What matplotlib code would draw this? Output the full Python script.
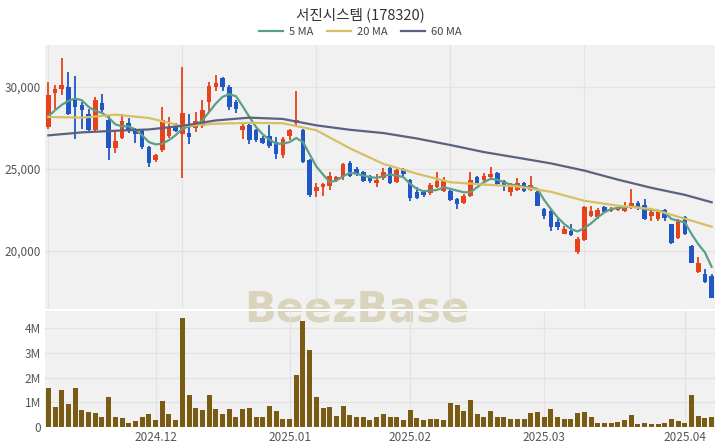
import numpy as np
import matplotlib
matplotlib.use("Agg")
import matplotlib.pyplot as plt
from matplotlib.patches import Rectangle
from matplotlib.lines import Line2D

plt.rcParams['font.family'] = ['Noto Sans CJK KR', 'DejaVu Sans']

title = "서진시스템 (178320)"

# daily candles, 2024-11-08 .. 2025-04-07 (100 trading days)
opens = [27550, 29600, 29840, 30000, 29290, 28880, 28330, 27350, 29020, 27960,
         26285, 26900, 27800, 27350, 27390, 26330, 25550, 26120, 26980, 27590,
         27100, 27180, 27510, 27590, 29080, 30000, 30510, 30000, 29080, 27350,
         27650, 27390, 26900, 26980, 26630, 25820, 26980, 27800, 27390, 25550,
         23630, 23875, 23980, 24330, 24590, 25350, 25000, 24800, 24590, 24120,
         24450, 25060, 24180, 25000, 24330, 23570, 23610, 23530, 23875, 23670,
         23630, 23160, 22895, 23370, 24530, 24290, 24490, 24730, 24245, 23570,
         23710, 24120, 23710, 23570, 22550, 22400, 21775, 21020, 21180, 19900,
         20655, 22140, 22080, 22690, 22410, 22490, 22450, 22650, 22900, 22820,
         22140, 21940, 22490, 21630, 20775, 22040, 20265, 18735, 18610, 18470]
highs = [30300, 30100, 31735, 30880, 30650, 29080, 28670, 29350, 29590, 28270,
         27300, 28370, 28120, 27510, 27450, 26370, 25920, 28780, 28160, 27800,
         31180, 28330, 28470, 29180, 30300, 30710, 30610, 30140, 29220, 27800,
         27755, 27450, 26980, 27650, 26940, 26940, 27450, 29755, 27450, 25610,
         24120, 24120, 24800, 24590, 25350, 25470, 25140, 24860, 24650, 24700,
         25060, 25140, 25060, 25060, 24390, 23875, 23715, 24120, 24800, 24490,
         23775, 23220, 23470, 24800, 24590, 24730, 25140, 24800, 24290, 24120,
         24450, 24180, 24590, 23670, 22590, 22490, 22040, 21530, 21630, 20860,
         22755, 22755, 22590, 22755, 22650, 22795, 22960, 23775, 23020, 23160,
         22410, 22490, 22550, 21630, 21940, 22140, 20365, 19630, 18875, 18570]
lows = [27450, 28670, 29490, 28270, 26840, 27450, 27245, 27245, 28370, 25550,
        25980, 26800, 27180, 26570, 26180, 25140, 25410, 26020, 26900, 27220,
        24450, 26490, 27245, 27510, 28470, 29755, 29755, 28570, 28410, 26840,
        26490, 26630, 26490, 26285, 25610, 25670, 26775, 27590, 25350, 23265,
        23300, 23370, 23715, 24180, 24330, 24530, 24590, 24180, 24120, 23915,
        24330, 24080, 24120, 24590, 23060, 23160, 23300, 23430, 23840, 23570,
        23060, 22550, 22855, 23265, 24080, 24180, 24450, 24040, 23670, 23370,
        23630, 23570, 23670, 22755, 21940, 21180, 21265, 21020, 20920, 19800,
        20610, 22040, 21940, 22285, 22345, 22450, 22345, 22550, 22490, 21880,
        21835, 21835, 21835, 20410, 20715, 20980, 19225, 18670, 18060, 17100]
closes = [29490, 29840, 30140, 28370, 28780, 28570, 27350, 29180, 28570, 26265,
          26690, 27900, 27390, 27100, 26330, 25350, 25820, 27960, 27510, 27300,
          28410, 26940, 27920, 28570, 30040, 30245, 30000, 28780, 28670, 27590,
          26735, 26735, 26570, 26370, 25920, 26840, 27350, 28000, 25410, 23430,
          23875, 24080, 24590, 24530, 25270, 24590, 24700, 24245, 24245, 24290,
          24800, 24120, 24900, 24700, 23220, 23220, 23430, 24000, 24245, 24245,
          23100, 22855, 23370, 24330, 24120, 24590, 24700, 24080, 24040, 24080,
          24120, 23630, 24040, 22755, 22140, 21430, 21430, 21325, 20980, 20715,
          22650, 22400, 22490, 22345, 22550, 22610, 22755, 22920, 22690, 21940,
          22345, 22410, 22000, 20450, 21835, 21020, 19285, 19285, 18120, 17140]
# volume in millions of shares
volume = [1.58, 0.82, 1.49, 0.92, 1.56, 0.67, 0.62, 0.58, 0.41, 1.23,
          0.41, 0.37, 0.16, 0.26, 0.42, 0.52, 0.29, 1.04, 0.51, 0.29,
          4.41, 1.29, 0.75, 0.68, 1.30, 0.74, 0.52, 0.73, 0.42, 0.74,
          0.79, 0.42, 0.42, 0.86, 0.66, 0.34, 0.34, 2.10, 4.30, 3.12,
          1.23, 0.77, 0.82, 0.44, 0.84, 0.49, 0.42, 0.42, 0.29, 0.41,
          0.53, 0.42, 0.41, 0.30, 0.68, 0.37, 0.27, 0.32, 0.34, 0.27,
          0.99, 0.89, 0.63, 1.10, 0.51, 0.40, 0.64, 0.42, 0.41, 0.33,
          0.33, 0.33, 0.55, 0.60, 0.41, 0.71, 0.40, 0.32, 0.32, 0.58,
          0.62, 0.41, 0.18, 0.18, 0.18, 0.21, 0.29, 0.49, 0.11, 0.16,
          0.11, 0.11, 0.15, 0.34, 0.26, 0.15, 1.30, 0.44, 0.38, 0.41]

# moving averages as drawn on the chart
ma5 = [28200, 28570, 28900, 29140, 29290, 29180, 28780, 28530, 28410, 28120,
       27710, 27590, 27590, 27390, 27040, 26630, 26490, 26530, 26750, 27050,
       27450, 27590, 27650, 27960, 28470, 28980, 29390, 29550, 29430, 28820,
       28160, 27550, 27100, 26775, 26530, 26530, 26630, 26880, 26630, 25880,
       25140, 24650, 24180, 24290, 24550, 24750, 24700, 24590, 24490, 24450,
       24550, 24650, 24590, 24490, 24080, 23775, 23630, 23670, 23710, 23875,
       23775, 23670, 23570, 23570, 23875, 24180, 24390, 24330, 24180, 24040,
       23980, 23900, 23875, 23775, 23100, 22550, 22040, 21630, 21325, 21180,
       21385, 21670, 22040, 22345, 22550, 22610, 22650, 22690, 22650, 22550,
       22490, 22450, 22345, 21940, 21835, 21735, 21020, 20410, 19900, 19020]
ma_idx = [0, 5, 10, 15, 20, 25, 30, 35, 40, 45, 50, 55, 60, 65, 70, 75, 80, 85, 90, 95, 99]
ma20 = [28160, 28120, 28300, 28100, 27600, 27750, 27800, 27780, 27350, 26250, 25300,
        24700, 24180, 24040, 23920, 23600, 23050, 22750, 22550, 21960, 21470]
ma60 = [27040, 27220, 27320, 27400, 27620, 27950, 28120, 28040, 27650, 27380, 27180,
        26850, 26450, 26020, 25680, 25330, 24890, 24340, 23840, 23410, 22960]

month_pos = [16, 36, 54, 74, 95]
month_labels = ["2024.12", "2025.01", "2025.02", "2025.03", "2025.04"]
price_grid_pos = [0, 20, 40, 60, 80]

UP = "#e8421b"
DOWN = "#2057c4"
BG = "#f1f1f1"
GRID = "#e3e3e3"
TXT = "#555555"

fig = plt.figure(figsize=(7.2, 4.48), dpi=100)
ax = fig.add_axes([45 / 720, 1 - 309 / 448, 670 / 720, 264 / 448])
axv = fig.add_axes([45 / 720, 1 - 427 / 448, 670 / 720, 116 / 448])

# watermark sits under the panels' marks
for a in (ax, axv):
    a.set_zorder(1)
    a.patch.set_visible(False)
    pos = a.get_position()
    fig.patches.append(Rectangle((pos.x0, pos.y0), pos.width, pos.height,
                                 transform=fig.transFigure, facecolor=BG,
                                 edgecolor="none", zorder=0))
fig.text(0.496, 0.31, "BeezBase", fontsize=30, fontweight="bold",
         color="#dad4bc", ha="center", va="center", zorder=0.5,
         family=["DejaVu Sans"])
# white strip between panels runs over the watermark
p1, p2 = ax.get_position(), axv.get_position()
fig.patches.append(Rectangle((p1.x0, p2.y1), p1.width, p1.y0 - p2.y1,
                             transform=fig.transFigure, facecolor="white",
                             edgecolor="none", zorder=0.7))

x = np.arange(len(closes))
o = np.array(opens)
c = np.array(closes)
colors = np.where(c >= o, UP, DOWN)

ax.vlines(x, lows, highs, colors=colors, linewidth=1.3, zorder=2)
body = np.abs(c - o)
body = np.maximum(body, 60)
ax.bar(x, body, bottom=np.minimum(o, c), width=0.68, color=colors, zorder=3)

ax.plot(x, ma5, color="#5c9f88", linewidth=1.6, zorder=4)
ax.plot(ma_idx, ma20, color="#d6c063", linewidth=1.6, zorder=4)
ax.plot(ma_idx, ma60, color="#5b6181", linewidth=1.6, zorder=4)

ax.set_xlim(-0.5, 99.5)
ax.set_ylim(16450, 32550)
ax.set_yticks([20000, 25000, 30000])
ax.set_yticklabels(["20,000", "25,000", "30,000"])
ax.set_xticks(price_grid_pos)
ax.set_xticklabels([])
ax.grid(True, color=GRID, linewidth=0.9, zorder=0)
ax.set_axisbelow(True)

axv.bar(x, volume, width=0.75, color="#7a5b13", zorder=3)
axv.set_xlim(-0.5, 99.5)
axv.set_ylim(0, 4.7)
axv.set_yticks([0, 1, 2, 3, 4])
axv.set_yticklabels(["0", "1M", "2M", "3M", "4M"])
axv.set_xticks(month_pos)
axv.set_xticklabels(month_labels)
axv.grid(True, color=GRID, linewidth=0.9, zorder=0)
axv.set_axisbelow(True)

for a in (ax, axv):
    for s in a.spines.values():
        s.set_visible(False)
    a.tick_params(length=0, labelsize=8.5, labelcolor=TXT, pad=3)

fig.text(0.5, 0.968, title, ha="center", va="center", fontsize=10.5, color="#333333")

handles = [Line2D([], [], color="#5c9f88", linewidth=1.6),
           Line2D([], [], color="#d6c063", linewidth=1.6),
           Line2D([], [], color="#5b6181", linewidth=1.6)]
fig.legend(handles, ["5 MA", "20 MA", "60 MA"], loc="center", bbox_to_anchor=(0.5, 0.928),
           ncol=3, frameon=False, fontsize=8, handlelength=2.2, columnspacing=1.2,
           handletextpad=0.5, labelcolor="#444444")

fig.savefig("out.png", dpi=100)
